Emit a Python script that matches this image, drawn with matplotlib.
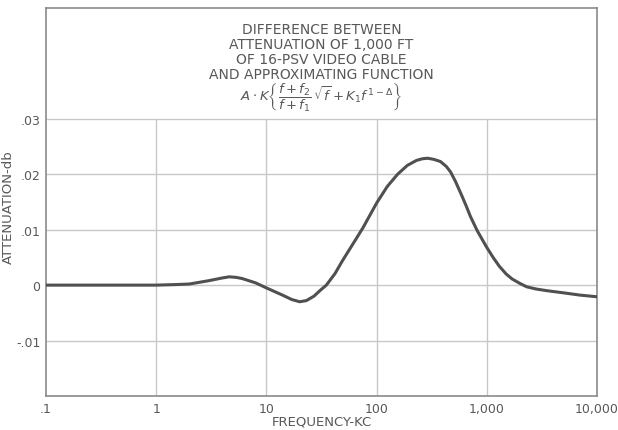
import numpy as np
import matplotlib
matplotlib.use("Agg")
import matplotlib.pyplot as plt

# attenuation difference (db) vs frequency (kc)
freq_kc = [0.1, 0.3, 1, 1.5, 2, 3, 4, 4.6, 5.3, 6, 8, 10, 14, 17, 20, 23,
           27, 31, 35, 42, 49, 60, 75, 88, 100, 125, 155, 190, 230, 260,
           290, 330, 380, 430, 470, 520, 580, 650, 710, 820, 1000, 1150,
           1300, 1500, 1700, 2000, 2300, 2800, 3500, 5000, 7000, 10000]
atten_db = [0.0, 0.0, 0.0, 0.0001, 0.0002, 0.0008, 0.0013, 0.0015, 0.0014,
            0.0012, 0.0004, -0.0005, -0.0018, -0.0026, -0.0030, -0.0028,
            -0.0020, -0.0009, 0.0, 0.0021, 0.0044, 0.0072, 0.0103, 0.0128,
            0.0148, 0.0178, 0.0200, 0.0216, 0.0225, 0.0228, 0.0229, 0.0227,
            0.0223, 0.0214, 0.0204, 0.0187, 0.0166, 0.0143, 0.0124, 0.0098,
            0.0068, 0.0049, 0.0034, 0.0020, 0.0011, 0.0003, -0.0003,
            -0.0007, -0.0010, -0.0014, -0.0018, -0.0021]

x_ticks = [0.1, 1, 10, 100, 1000, 10000]
x_labels = [".1", "1", "10", "100", "1,000", "10,000"]
y_ticks = [-0.01, 0.0, 0.01, 0.02, 0.03]
y_labels = ["-.01", "0", ".01", ".02", ".03"]

title_lines = ["DIFFERENCE BETWEEN",
               "ATTENUATION OF 1,000 FT",
               "OF 16-PSV VIDEO CABLE",
               "AND APPROXIMATING FUNCTION"]
formula = r"$A\cdot K\left\{\dfrac{f+f_2}{f+f_1}\,\sqrt{f}+K_1 f^{\,1-\Delta}\right\}$"

text_col = "#585858"
grid_col = "#c8c8c8"

fig = plt.figure(figsize=(6.18, 4.31), dpi=100)
ax = fig.add_axes([0.0744, 0.079, 0.8916, 0.900])

ax.set_xscale("log")
ax.set_xlim(0.1, 10000)
ax.set_ylim(-0.02, 0.05)

# grid: verticals stop under the title block, horizontals run full width
ax.vlines(x_ticks[1:-1], -0.02, 0.03, color=grid_col, lw=1.0, zorder=1)
ax.hlines(y_ticks, 0.1, 10000, color=grid_col, lw=1.0, zorder=1)

ax.plot(freq_kc, atten_db, color="#505050", lw=2.2, zorder=3,
        solid_capstyle="round", solid_joinstyle="round")

ax.set_xticks(x_ticks)
ax.set_xticklabels(x_labels)
ax.minorticks_off()
ax.set_yticks(y_ticks)
ax.set_yticklabels(y_labels)
ax.tick_params(length=0, labelsize=9, pad=4, labelcolor=text_col)

for s in ax.spines.values():
    s.set_color("#8a8a8a")
    s.set_linewidth(1.2)

ax.set_xlabel("FREQUENCY-KC", fontsize=9.5, color=text_col)
ax.xaxis.set_label_coords(0.5, -0.047)
ax.set_ylabel("ATTENUATION-db", fontsize=9.5, color=text_col)
ax.yaxis.set_label_coords(-0.056, 0.49)

# title block sitting above the .03 line
tx = 0.50
for i, line in enumerate(title_lines):
    ax.text(tx, 0.946 - i * 0.039, line, transform=ax.transAxes,
            ha="center", va="center", fontsize=10, color=text_col)
ax.text(tx, 0.770, formula, transform=ax.transAxes, ha="center",
        va="center", fontsize=9.5, color=text_col)

fig.savefig("out.png", dpi=100)
